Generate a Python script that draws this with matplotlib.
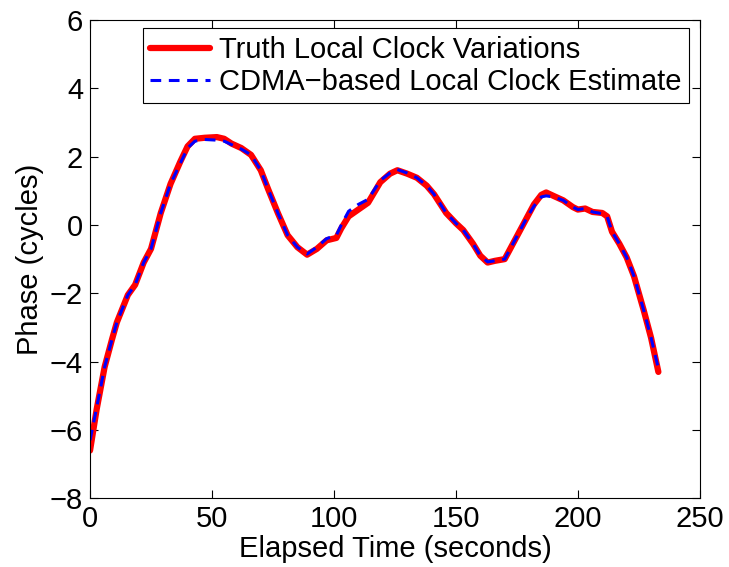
import matplotlib
matplotlib.use("Agg")
import matplotlib.pyplot as plt

plt.rcParams['font.family'] = ['Liberation Sans', 'DejaVu Sans']

# Elapsed time (seconds) and phase (cycles)
t = [0, 2.7, 6, 9, 11, 15.5, 18.5, 22, 25, 29, 33, 37, 40, 43, 47, 52, 55, 58,
     62, 66, 70, 73, 77, 81, 85, 89, 93, 97, 101, 103, 106, 110, 114, 119, 123,
     126, 130, 134, 138, 141, 146, 150, 153, 157, 160, 163, 166, 170, 173, 176,
     179, 182, 185, 187, 190, 194, 198, 200, 203, 206, 210, 212, 214, 217, 220,
     223, 227, 230, 233]

truth = [-6.6, -5.4, -4.15, -3.35, -2.85, -2.05, -1.75, -1.1, -0.7, 0.35, 1.2,
         1.85, 2.3, 2.52, 2.55, 2.57, 2.52, 2.38, 2.25, 2.05, 1.6, 1.05, 0.35,
         -0.3, -0.65, -0.87, -0.7, -0.45, -0.38, -0.1, 0.25, 0.45, 0.65, 1.25,
         1.5, 1.6, 1.5, 1.38, 1.15, 0.9, 0.35, 0.05, -0.15, -0.55, -0.9, -1.1,
         -1.05, -1.0, -0.6, -0.2, 0.2, 0.6, 0.88, 0.95, 0.85, 0.72, 0.52, 0.45,
         0.48, 0.38, 0.35, 0.25, -0.2, -0.55, -0.95, -1.5, -2.5, -3.3, -4.3]

estimate = [-6.3, -5.35, -4.15, -3.35, -2.85, -2.05, -1.75, -1.1, -0.7, 0.35,
            1.2, 1.8, 2.25, 2.45, 2.5, 2.48, 2.45, 2.35, 2.22, 2.05, 1.6, 1.05,
            0.35, -0.3, -0.65, -0.85, -0.65, -0.4, -0.3, 0.0, 0.4, 0.6, 0.75,
            1.3, 1.52, 1.62, 1.52, 1.38, 1.15, 0.9, 0.35, 0.05, -0.15, -0.55,
            -0.9, -1.08, -1.05, -1.0, -0.6, -0.2, 0.2, 0.55, 0.82, 0.85, 0.82,
            0.72, 0.52, 0.45, 0.48, 0.38, 0.33, 0.25, -0.2, -0.55, -0.95, -1.5,
            -2.5, -3.3, -4.2]

fig = plt.figure(figsize=(7.29, 5.67), dpi=100)
ax = fig.add_axes([0.1235, 0.121, 0.8365, 0.844])

ax.plot(t, truth, color='red', lw=4.5, solid_joinstyle='round',
        solid_capstyle='round', label='Truth Local Clock Variations')
ax.plot(t, estimate, color='blue', lw=2.2, ls=(0, (3.5, 2.5)),
        label='CDMA\u2212based Local Clock Estimate')

ax.set_xlim(0, 250)
ax.set_ylim(-8, 6)
ax.set_xticks([0, 50, 100, 150, 200, 250])
ax.set_yticks([-8, -6, -4, -2, 0, 2, 4, 6])
ax.tick_params(direction='in', top=True, right=True, length=6, labelsize=21)
ax.tick_params(axis='x', pad=5)
ax.tick_params(axis='y', pad=5)
for s in ax.spines.values():
    s.set_linewidth(0.8)

ax.set_xlabel('Elapsed Time (seconds)', fontsize=21, labelpad=1)
ax.set_ylabel('Phase (cycles)', fontsize=21, labelpad=4)

leg = ax.legend(loc='upper left', bbox_to_anchor=(0.087, 0.982), fontsize=21,
                fancybox=False, edgecolor='black', framealpha=1,
                handlelength=2.05, handletextpad=0.3, borderpad=0.25,
                labelspacing=0.15, borderaxespad=0)
leg.get_frame().set_linewidth(0.8)

fig.savefig('out.png', dpi=100)
